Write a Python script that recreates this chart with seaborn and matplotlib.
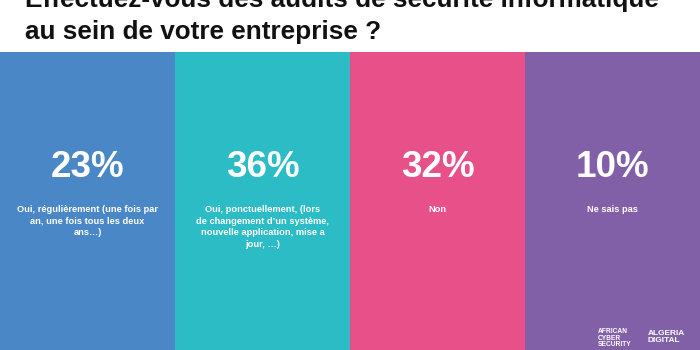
import matplotlib
matplotlib.use("Agg")
import matplotlib.pyplot as plt
import seaborn as sns
import pandas as pd

# ---- data ----
title_lines = ["Effectuez-vous des audits de sécurité informatique",
               "au sein de votre entreprise ?"]
categories = ["Oui, régulièrement", "Oui, ponctuellement", "Non", "Ne sais pas"]
percentages = [23, 36, 32, 10]
answer_labels = [
    "Oui, régulièrement (une fois par\nan, une fois tous les deux\nans…)",
    "Oui, ponctuellement, (lors\nde changement d’un système,\nnouvelle application, mise a\njour, …)",
    "Non",
    "Ne sais pas",
]
panel_height = [1, 1, 1, 1]
colors = ["#4A87C6", "#2BBCC6", "#E8508A", "#8260A8"]

sns.set_theme(style="white")
plt.rcParams["font.family"] = ["Liberation Sans", "DejaVu Sans"]

df = pd.DataFrame({"cat": categories, "h": panel_height})

fig = plt.figure(figsize=(7, 3.5), dpi=100)
ax = fig.add_axes([0, 0, 1, 298 / 350])
sns.barplot(data=df, x="cat", y="h", hue="cat", palette=colors, width=1.0,
            legend=False, ax=ax, saturation=1, linewidth=0)
ax.set_xlim(-0.5, 3.5)
ax.set_ylim(0, 1)
ax.axis("off")

for i, (p, lab) in enumerate(zip(percentages, answer_labels)):
    ax.text(i, 0.614, f"{p}%", ha="center", va="center", color="white",
            fontsize=26.5, fontweight="bold")
    ax.text(i, 0.485, lab, ha="center", va="top", color="white",
            fontsize=6.7, fontweight="bold", linespacing=1.35)

fig.text(25 / 700, 1 - 7 / 350, title_lines[0], ha="left", va="baseline",
         fontsize=18.8, fontweight="bold", color="#111111")
fig.text(25 / 700, 1 - 39 / 350, title_lines[1], ha="left", va="baseline",
         fontsize=18.8, fontweight="bold", color="#111111")

# logo texts
fig.text(598 / 700, 1 - 328 / 350, "AFRICAN\nCYBER\nSECURITY", ha="left", va="top",
         fontsize=4.8, fontweight="bold", color="white", linespacing=0.95)
fig.text(648 / 700, 1 - 330 / 350, "ALGERIA\nDIGITAL", ha="left", va="top",
         fontsize=6, fontweight="bold", color="white", linespacing=1.0)

fig.savefig("out.png", dpi=100)
